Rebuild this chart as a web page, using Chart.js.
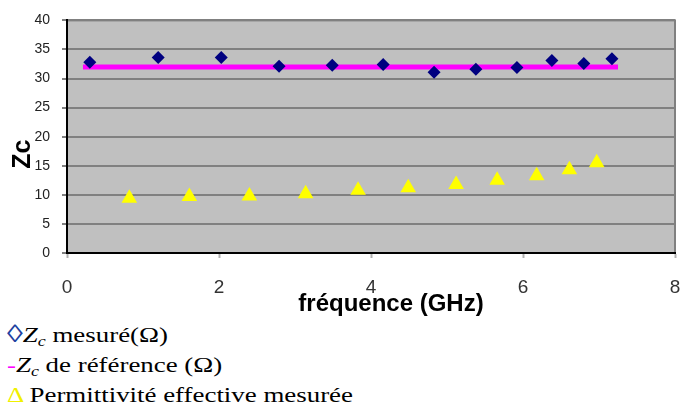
<!DOCTYPE html>
<html>
<head>
<meta charset="utf-8">
<script src="https://cdn.jsdelivr.net/npm/chart.js@4"></script>
<style>
  html, body { margin: 0; background: #fff; overflow: hidden; }
  #wrap { position: relative; width: 692px; height: 319px; }
  #legende { position: absolute; left: 7px; top: 320px; font-family: "Liberation Serif", "Times New Roman", serif; font-size: 21px; color: #000; transform: scaleX(1.28); transform-origin: left top; white-space: nowrap; }
  #legende div { height: 30px; line-height: 30px; }
  #legende sub { font-size: 14px; vertical-align: baseline; position: relative; top: 4px; }
  #legende .loz { font-size: 25px; line-height: 20px; }
</style>
</head>
<body>
<div id="wrap"><canvas id="myChart"></canvas></div>
<div id="legende">
  <div><span class="loz" style="color:#2040a0">&#9674;</span><i>Z<sub>c</sub></i> mesuré(Ω)</div>
  <div><span style="color:#ff00ff">-</span><i>Z<sub>c</sub></i> de référence (Ω)</div>
  <div><span style="color:#f0f000">&#916;</span> Permittivité effective mesurée</div>
</div>
<script>
// frequences (GHz) et valeurs
const freqZc = [0.30, 1.20, 2.03, 2.79, 3.49, 4.16, 4.83, 5.38, 5.92, 6.38, 6.80, 7.17];
const zcMesure = [32.8, 33.6, 33.6, 32.1, 32.3, 32.4, 31.1, 31.6, 31.9, 33.1, 32.6, 33.4];
const freqRef = [0.21, 7.25];
const zcRef = [32, 32];
const freqEps = [0.82, 1.61, 2.40, 3.14, 3.83, 4.49, 5.12, 5.66, 6.18, 6.61, 6.97];
const epsMesure = [9.4, 9.7, 9.8, 10.2, 10.8, 11.2, 11.8, 12.5, 13.3, 14.3, 15.5];

function pts(xs, ys) {
  return xs.map((x, i) => ({ x: x, y: ys[i] }));
}

// fond gris + cadre du graphique
const fondPlot = {
  id: 'fondPlot',
  beforeDraw(chart) {
    const a = chart.chartArea;
    const c = chart.ctx;
    c.save();
    c.fillStyle = '#c0c0c0';
    c.fillRect(a.left, a.top, a.right - a.left, a.bottom - a.top);
    c.strokeStyle = '#808080';
    c.lineWidth = 2;
    c.strokeRect(a.left, a.top, a.right - a.left, a.bottom - a.top);
    c.restore();
  }
};

const ctx = document.getElementById('myChart');
new Chart(ctx, {
  type: 'scatter',
  data: {
    datasets: [
      {
        label: 'Zc de référence',
        data: pts(freqRef, zcRef),
        showLine: true,
        borderColor: '#ff00ff',
        borderWidth: 5,
        pointRadius: 0,
        order: 2
      },
      {
        label: 'Zc mesuré',
        data: pts(freqZc, zcMesure),
        pointStyle: 'rectRot',
        pointRadius: 6.5,
        backgroundColor: '#000080',
        borderColor: '#000080',
        borderWidth: 0,
        order: 1
      },
      {
        label: 'Permittivité effective mesurée',
        data: pts(freqEps, epsMesure),
        pointStyle: 'triangle',
        pointRadius: 9,
        backgroundColor: '#ffff00',
        borderColor: '#ffff00',
        borderWidth: 0,
        order: 1
      }
    ]
  },
  options: {
    responsive: true,
    maintainAspectRatio: false,
    animation: false,
    layout: { padding: { left: 0, right: 17, top: 15, bottom: 0 } },
    plugins: {
      legend: { display: false },
      tooltip: { enabled: false }
    },
    scales: {
      x: {
        type: 'linear',
        min: 0,
        max: 8,
        afterFit: s => { s.height = 66; s.paddingLeft = 0; s.paddingRight = 0; },
        ticks: { stepSize: 2, padding: 18, color: '#333', font: { family: 'Liberation Sans, Arial', size: 19 } },
        grid: { drawOnChartArea: false, tickLength: 5, tickColor: '#b0b0b0', tickWidth: 2 },
        border: { color: '#000', width: 2 },
        title: {
          display: true,
          text: '      fréquence (GHz)',
          color: '#000',
          padding: { top: 0, bottom: 0 },
          font: { family: 'Liberation Sans, Arial', size: 24, weight: 'bold' }
        }
      },
      y: {
        min: 0,
        max: 40,
        afterFit: s => { s.width = 67; },
        ticks: { stepSize: 5, padding: 12, color: '#222', font: { family: 'Liberation Sans, Arial', size: 14 } },
        grid: { color: '#808080', lineWidth: 2, tickLength: 5, tickColor: '#808080' },
        border: { color: '#000', width: 2 },
        title: {
          display: true,
          text: 'Zc     ',
          color: '#000',
          padding: { top: 8, bottom: 0 },
          font: { family: 'Liberation Sans, Arial', size: 25, weight: 'bold' }
        }
      }
    }
  },
  plugins: [fondPlot]
});
</script>
</body>
</html>
